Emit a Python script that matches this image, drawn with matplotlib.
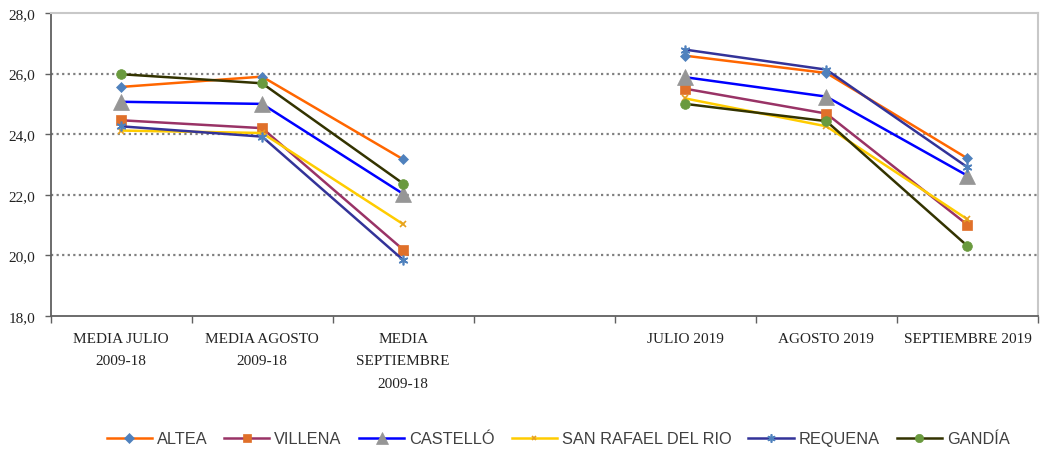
import numpy as np
import matplotlib
matplotlib.use("Agg")
import matplotlib.pyplot as plt
import matplotlib.transforms as mtransforms
from matplotlib.ticker import FixedLocator, FuncFormatter, NullFormatter

# categories (4th slot is an empty gap between the two groups)
categories = ["MEDIA JULIO\n2009-18", "MEDIA AGOSTO\n2009-18", "MEDIA\nSEPTIEMBRE\n2009-18",
              "", "JULIO 2019", "AGOSTO 2019", "SEPTIEMBRE 2019"]

altea      = [25.56, 25.90, 23.17, None, 26.59, 26.02, 23.20]
villena    = [24.46, 24.20, 20.19, None, 25.50, 24.68, 21.01]
castello   = [25.07, 25.00, 22.03, None, 25.88, 25.24, 22.63]
san_rafael = [24.12, 24.04, 21.03, None, 25.18, 24.26, 21.19]
requena    = [24.26, 23.92, 19.85, None, 26.79, 26.13, 22.91]
gandia     = [25.98, 25.68, 22.37, None, 25.00, 24.43, 20.31]

# name, values, line colour, marker, marker colour, marker size, legend marker size
series = [
    ("ALTEA", altea, "#FF6600", "D", "#4F81BD", 5, 5),
    ("VILLENA", villena, "#993366", "s", "#E0702A", 7, 6),
    ("CASTELLÓ", castello, "#0000FF", "^", "#969696", 12, 8),
    ("SAN RAFAEL DEL RIO", san_rafael, "#FFCC00", "x", "#E6A020", 4, 3.5),
    ("REQUENA", requena, "#333399", (6, 2, 0), "#4F81BD", 7, 6),
    ("GANDÍA", gandia, "#333300", "o", "#6A9A3E", 7, 6),
]

fig = plt.figure(figsize=(10.41, 4.52), dpi=100)
ax = fig.add_axes([50.5 / 1041, 135 / 452, (1038 - 50.5) / 1041, (317 - 14) / 452])

x = np.arange(len(categories))
for name, vals, lc, mk, mc, ms, _ in series:
    y = np.array([np.nan if v is None else v for v in vals], dtype=float)
    ax.plot(x, y, color=lc, lw=1.8, marker=mk, markersize=ms,
            markerfacecolor=mc, markeredgecolor=mc,
            markeredgewidth=1.2 if mk in ("x", (6, 2, 0)) else 0.5, label=name)

ax.set_xlim(-0.5, len(categories) - 0.5)
ax.set_ylim(18, 28)

# y axis
ax.yaxis.set_major_locator(FixedLocator([18, 20, 22, 24, 26, 28]))
ax.yaxis.set_major_formatter(FuncFormatter(lambda v, p: f"{v:.1f}".replace(".", ",")))
ax.tick_params(axis="y", direction="out", length=4, width=1, color="#606060",
               pad=7, labelsize=11, labelcolor="#222222")
for t in ax.get_yticklabels():
    t.set_family("Liberation Serif")
for v in [20, 22, 24, 26]:
    ax.axhline(v, color="#808080", lw=1.6, ls=(0, (1, 1.5)), zorder=0)

# x axis: tick marks between categories, labels centred under each category
ax.xaxis.set_major_locator(FixedLocator(np.arange(-0.5, len(categories), 1.0)))
ax.xaxis.set_major_formatter(NullFormatter())
ax.tick_params(axis="x", which="major", direction="out", length=5, width=1, color="#606060")
lab_tr = mtransforms.offset_copy(ax.get_xaxis_transform(), fig=fig, x=0, y=-16, units="dots")
for xi, cat in zip(x, categories):
    ax.text(xi, 0, cat, transform=lab_tr, ha="center", va="top", family="Liberation Serif",
            fontsize=11, color="#222222", linespacing=1.95)

ax.spines["left"].set_color("#606060")
ax.spines["bottom"].set_color("#606060")
ax.spines["left"].set_linewidth(1.3)
ax.spines["bottom"].set_linewidth(1.3)
ax.spines["top"].set_color("#C8C8C8")
ax.spines["right"].set_color("#C8C8C8")
ax.spines["top"].set_linewidth(1.5)
ax.spines["right"].set_linewidth(1.5)

leg = fig.legend(loc="center", bbox_to_anchor=(558 / 1041, 1 - 440 / 452), ncol=6,
                 frameon=False, handlelength=2.75, handletextpad=0.3, columnspacing=1.05,
                 prop={"family": "Liberation Sans", "size": 11.8}, borderaxespad=0)
for t in leg.get_texts():
    t.set_color("#404040")
for h, s in zip(leg.legend_handles, series):
    h.set_markersize(s[6])

fig.savefig("out.png", dpi=100)
